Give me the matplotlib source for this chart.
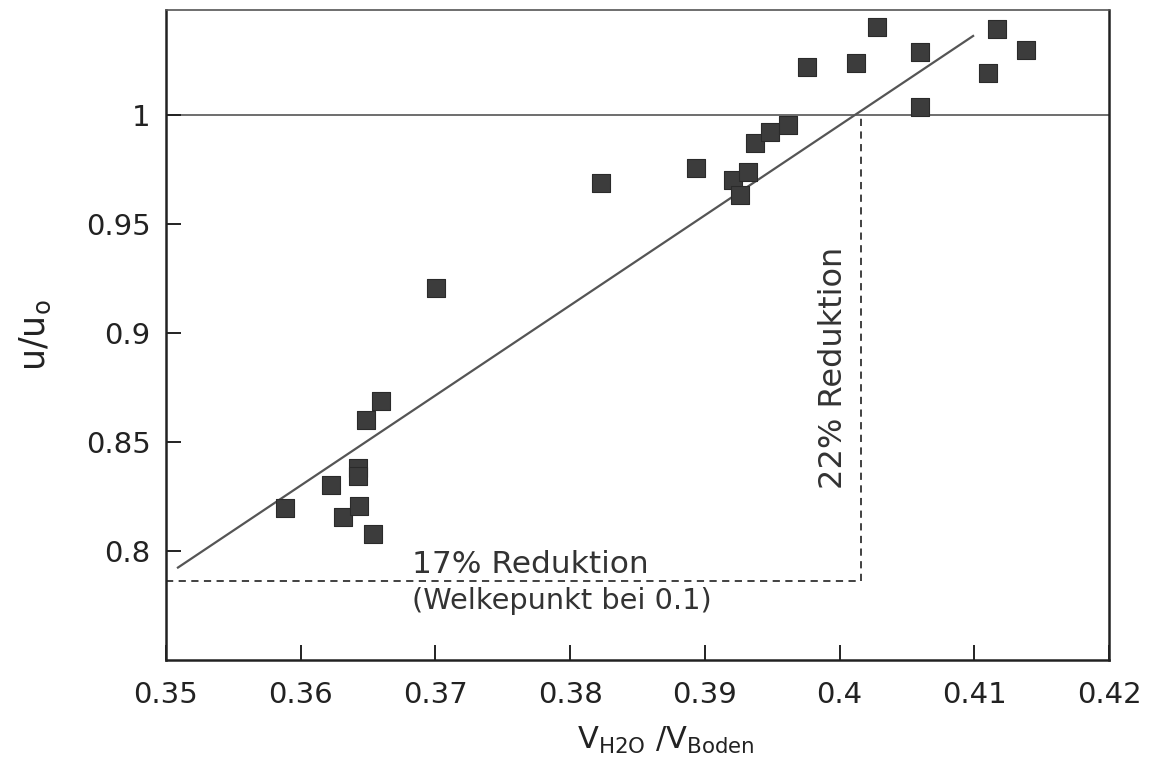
import matplotlib
matplotlib.use('Agg')
import matplotlib.pyplot as plt

# measured points (water content vs relative growth)
vh2o = [0.35883, 0.36225, 0.36314, 0.36425, 0.36425, 0.36433, 0.36485, 0.36537,
        0.36596, 0.37004, 0.38229, 0.38935, 0.39209, 0.39261, 0.39321, 0.39373,
        0.39484, 0.39618, 0.39759, 0.40122, 0.40278, 0.40598, 0.40598, 0.41102,
        0.41169, 0.41385]
u_rel = [0.8200, 0.8305, 0.8158, 0.8383, 0.8346, 0.8209, 0.8603, 0.8080,
         0.8690, 0.9209, 0.9690, 0.9759, 0.9704, 0.9635, 0.9741, 0.9874,
         0.9924, 0.9956, 1.0222, 1.0241, 1.0406, 1.0291, 1.0039, 1.0195,
         1.0397, 1.0300]

# regression line endpoints
fit_x = [0.35089, 0.40991]
fit_y = [0.79243, 1.03647]

# reduction markers
ref_level = 1.0
wilt_y = 0.7862
wilt_x = 0.4016

xticks = [0.35, 0.36, 0.37, 0.38, 0.39, 0.40, 0.41, 0.42]
xticklabels = ['0.35', '0.36', '0.37', '0.38', '0.39', '0.4', '0.41', '0.42']
yticks = [0.80, 0.85, 0.90, 0.95, 1.00]
yticklabels = ['0.8', '0.85', '0.9', '0.95', '1']

plt.rcParams['font.family'] = ['DejaVu Sans']
fig = plt.figure(figsize=(11.59, 7.73), dpi=100)
ax = fig.add_axes([0.1432, 0.1462, 0.8137, 0.8409])

ax.set_xlim(0.35, 0.42)
ax.set_ylim(0.75, 1.0484)

ax.axhline(ref_level, color='#555555', lw=1.2, zorder=1)
ax.plot([0.35, wilt_x], [wilt_y, wilt_y], color='#333333', lw=1.3, ls=(0, (4, 3)), zorder=1)
ax.plot([wilt_x, wilt_x], [wilt_y, ref_level], color='#333333', lw=1.3, ls=(0, (4, 3)), zorder=1)

ax.plot(fit_x, fit_y, color='#555555', lw=1.6, zorder=2)
ax.scatter(vh2o, u_rel, marker='s', s=150, color='#3c3c3c', edgecolor='#2a2a2a', lw=0.8, zorder=3)

ax.text(0.36826, 0.7901, '17% Reduktion', fontsize=22.5, color='#333333', ha='left', va='baseline')
ax.text(0.36826, 0.7736, '(Welkepunkt bei 0.1)', fontsize=20.7, color='#333333', ha='left', va='baseline')
ax.text(0.39955, 0.8842, '22% Reduktion', fontsize=23, color='#333333', rotation=90, ha='center', va='center')

ax.set_xticks(xticks)
ax.set_xticklabels(xticklabels)
ax.set_yticks(yticks)
ax.set_yticklabels(yticklabels)
ax.tick_params(direction='in', length=11, width=1.4, labelsize=21, colors='#222222')
ax.tick_params(axis='x', pad=15)
ax.tick_params(axis='y', pad=11)

for s in ax.spines.values():
    s.set_linewidth(1.8)
    s.set_color('#222222')
ax.spines['top'].set_linewidth(1.2)
ax.spines['top'].set_color('#555555')

ax.set_xlabel(r'V$_\mathregular{H2O}$ /V$_\mathregular{Boden}$', fontsize=22, color='#222222')
ax.xaxis.set_label_coords(0.53, -0.1)
ax.set_ylabel(r'u/u$_\mathregular{o}$', fontsize=25, color='#222222')
ax.yaxis.set_label_coords(-0.12, 0.5)

plt.savefig('out.png', dpi=100)
